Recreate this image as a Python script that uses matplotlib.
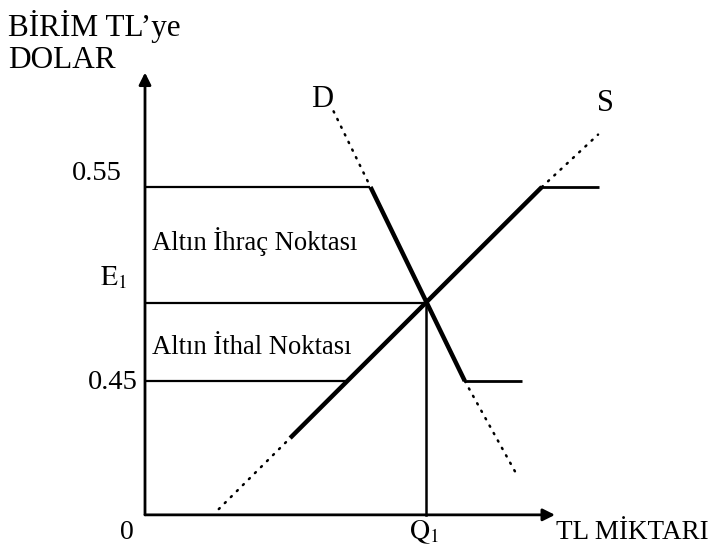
import matplotlib
matplotlib.use("Agg")
import matplotlib.pyplot as plt

plt.rcParams['font.family'] = ['Liberation Serif', 'DejaVu Serif']
plt.rcParams['mathtext.fontset'] = 'stix'

# ---- data (x: TL quantity in arbitrary units, y: dollars per TL) ----
origin_y = 0.381
x_axis_end = 100.0
y_axis_top = 0.609

upper_rate = 0.55        # gold export point
lower_rate = 0.45        # gold import point
eq_rate = 0.49           # E1
q1 = 68.5                # Q1

# Demand curve D
d_dot_top_x = [46.0, 55.0]
d_dot_top_y = [0.589, 0.55]
d_solid_x = [55.0, 78.0]
d_solid_y = [0.55, 0.45]
d_flat_x = [78.0, 92.0]
d_flat_y = [0.45, 0.45]
d_dot_low_x = [78.0, 91.0]
d_dot_low_y = [0.45, 0.4005]

# Supply curve S
s_dot_low_x = [18.0, 35.4]
s_dot_low_y = [0.384, 0.4206]
s_solid_x = [35.4, 96.8]
s_solid_y = [0.4206, 0.55]
s_flat_x = [96.8, 110.7]
s_flat_y = [0.55, 0.55]
s_dot_up_x = [96.8, 110.5]
s_dot_up_y = [0.55, 0.577]

# level lines
h_levels = [0.55, 0.49, 0.45]
h_ends = [55.0, 68.5, 49.35]

ytick_labels = ['0.55', r'$\mathrm{E}_{\mathrm{1}}$', '0.45']

# ---- figure: pixel mapping (145 px = x 0, 4.1 px per unit; 381 px = 0.45, 1940 px per unit)
W, H = 711, 550
fig = plt.figure(figsize=(W / 100, H / 100), dpi=100)
ax = fig.add_axes([0, 0, 1, 1])
ax.set_xlim((0 - 145) / 4.1, (W - 145) / 4.1)
ax.set_ylim(0.45 - (H - 381) / 1940, 0.45 + 381 / 1940)
ax.axis('off')

black = 'black'
thick = 3.2
thin = 1.6
dot_style = dict(color=black, lw=1.8, linestyle=(0, (0.5, 2.9)), dash_capstyle='round')

# axes arrows
ax.annotate('', xy=(0, y_axis_top), xytext=(0, origin_y),
            arrowprops=dict(arrowstyle='-|>', color=black, lw=2.0, mutation_scale=18,
                            shrinkA=0, shrinkB=0))
ax.annotate('', xy=(x_axis_end, origin_y), xytext=(0, origin_y),
            arrowprops=dict(arrowstyle='-|>', color=black, lw=2.0, mutation_scale=18,
                            shrinkA=0, shrinkB=0))

# level lines
for lv, xe in zip(h_levels, h_ends):
    ax.plot([0, xe], [lv, lv], color=black, lw=thin, solid_capstyle='butt')
ax.plot([q1, q1], [origin_y, eq_rate], color=black, lw=1.8)

# D
ax.plot(d_dot_top_x, d_dot_top_y, **dot_style)
ax.plot(d_solid_x, d_solid_y, color=black, lw=thick, solid_capstyle='butt')
ax.plot(d_flat_x, d_flat_y, color=black, lw=2.0, solid_capstyle='butt')
ax.plot(d_dot_low_x, d_dot_low_y, **dot_style)

# S
ax.plot(s_dot_low_x, s_dot_low_y, **dot_style)
ax.plot(s_solid_x, s_solid_y, color=black, lw=thick, solid_capstyle='butt')
ax.plot(s_flat_x, s_flat_y, color=black, lw=2.0, solid_capstyle='butt')
ax.plot(s_dot_up_x, s_dot_up_y, **dot_style)

# tick-like labels
ax.text(-5.6, 0.5536, ytick_labels[0], fontsize=20.5, ha='right', va='baseline')
ax.text(-11.0, 0.4995, ytick_labels[1], fontsize=20, ha='left', va='baseline')
ax.text(-1.7, 0.4459, ytick_labels[2], fontsize=20.5, ha='right', va='baseline')
ax.text(-4.4, 0.3686, '0', fontsize=20, ha='center', va='baseline')
ax.text(64.4, 0.3686, r'$\mathrm{Q}_{\mathrm{1}}$', fontsize=20, ha='left', va='baseline')
ax.text(100.2, 0.3686, 'TL MİKTARI', fontsize=19.5, ha='left', va='baseline')

# region labels
ax.text(1.7, 0.5175, 'Altın İhraç Noktası', fontsize=19.2, ha='left', va='baseline')
ax.text(1.7, 0.4639, 'Altın İthal Noktası', fontsize=19.2, ha='left', va='baseline')

# curve labels
ax.text(43.2, 0.5912, 'D', fontsize=22, ha='center', va='baseline')
ax.text(112.2, 0.5892, 'S', fontsize=22, ha='center', va='baseline')

# axis title
fig.text(8 / W, 1 - 36 / H, "BİRİM TL’ye", fontsize=22.5, ha='left', va='baseline')
fig.text(8 / W, 1 - 68 / H, "DOLAR", fontsize=22.5, ha='left', va='baseline')

fig.savefig('out.png', dpi=100)
